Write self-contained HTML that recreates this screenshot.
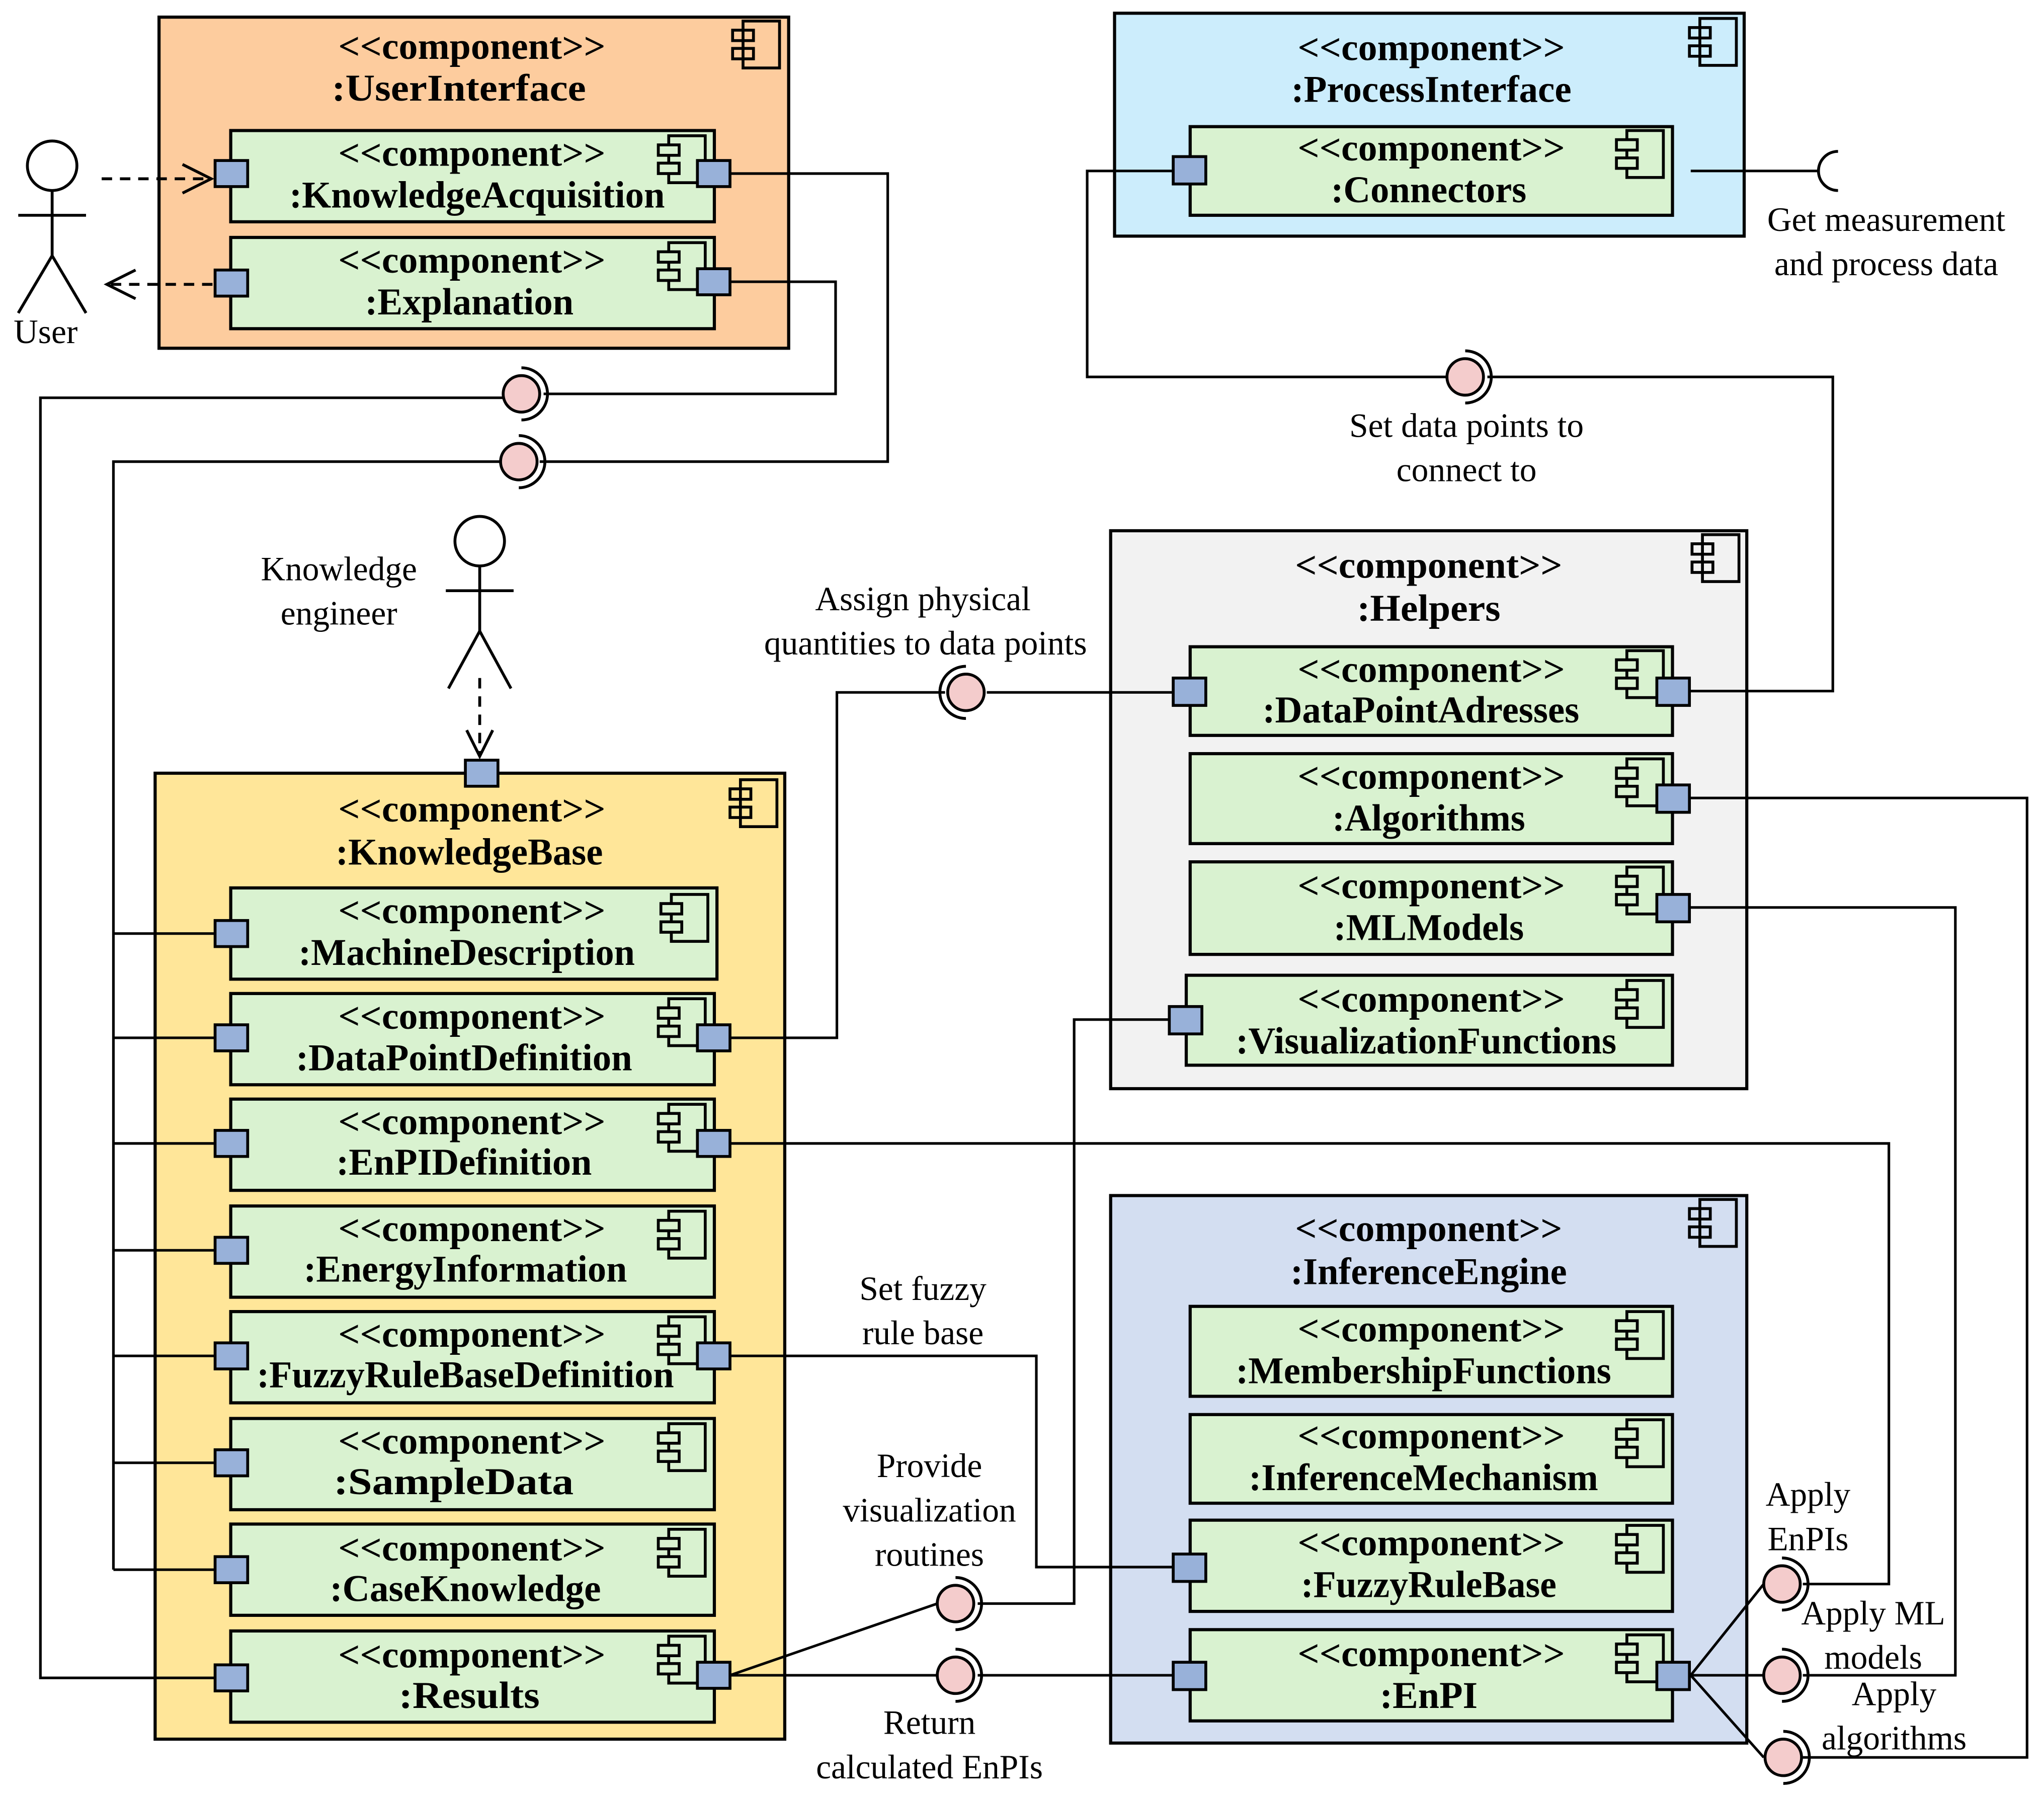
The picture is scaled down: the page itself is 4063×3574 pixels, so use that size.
<!DOCTYPE html>
<html><head><meta charset="utf-8"><style>html,body{margin:0;padding:0;background:#fff}svg{display:block}</style></head>
<body>
<svg xmlns="http://www.w3.org/2000/svg" width="4063" height="3574" viewBox="0 0 1568 1379">
<defs>
<g id="ic"><rect x="8" y="0" width="28" height="36" fill="none" stroke="#000" stroke-width="2.2"/><rect x="0" y="7" width="16" height="8" fill="#d9f2d0" stroke="#000" stroke-width="2.2"/><rect x="0" y="21" width="16" height="8" fill="#d9f2d0" stroke="#000" stroke-width="2.2"/></g>
<g id="icb"><rect x="8" y="0" width="28" height="36" fill="none" stroke="#000" stroke-width="2.2"/><rect x="0" y="7" width="16" height="8" fill="none" stroke="#000" stroke-width="2.2"/><rect x="0" y="21" width="16" height="8" fill="none" stroke="#000" stroke-width="2.2"/></g>
</defs>
<style>
.b{font-family:"Liberation Serif",serif;font-weight:bold;font-size:29px;text-anchor:middle}
.l{font-family:"Liberation Serif",serif;font-size:26px;text-anchor:middle}
.w{fill:none;stroke:#000;stroke-width:2}
.p{fill:#98b1d9;stroke:#000;stroke-width:2.2}
.g{fill:#d9f2d0;stroke:#000;stroke-width:2.4}
.ball{fill:#f4cccc;stroke:#000;stroke-width:2.2}
.s{fill:none;stroke:#000;stroke-width:2.2}
</style>

<!-- User Interface -->
<rect x="122" y="13" width="483" height="254" fill="#fdcc9e" stroke="#000" stroke-width="2.4"/>
<use href="#icb" x="562" y="16"/>
<text class="b" x="362" y="45" textLength="205" lengthAdjust="spacingAndGlyphs">&lt;&lt;component&gt;&gt;</text>
<text class="b" x="352" y="77" textLength="195" lengthAdjust="spacingAndGlyphs">:UserInterface</text>
<rect class="g" x="177" y="100" width="371" height="70"/><use href="#ic" x="505" y="104"/>
<text class="b" x="362" y="127" textLength="205" lengthAdjust="spacingAndGlyphs">&lt;&lt;component&gt;&gt;</text>
<text class="b" x="366" y="159" textLength="288" lengthAdjust="spacingAndGlyphs">:KnowledgeAcquisition</text>
<rect class="g" x="177" y="182" width="371" height="70"/><use href="#ic" x="505" y="186"/>
<text class="b" x="362" y="209" textLength="205" lengthAdjust="spacingAndGlyphs">&lt;&lt;component&gt;&gt;</text>
<text class="b" x="360" y="241" textLength="160" lengthAdjust="spacingAndGlyphs">:Explanation</text>

<!-- User actor -->
<g class="s"><circle cx="40" cy="127" r="19"/><line x1="40" y1="146" x2="40" y2="196"/><line x1="14" y1="165" x2="66" y2="165"/><polyline points="14,240 40,196 66,240"/></g>
<text class="l" x="35" y="263">User</text>
<g class="s" stroke-dasharray="8,6"><line x1="78" y1="137" x2="160" y2="137"/><line x1="85" y1="218" x2="163" y2="218"/></g>
<polyline class="s" points="140,126 162,137 140,148"/>
<polyline class="s" points="104,207 82,218 104,229"/>

<!-- Process Interface -->
<rect x="855" y="10" width="483" height="171" fill="#ccedfc" stroke="#000" stroke-width="2.4"/>
<use href="#icb" x="1296" y="14"/>
<text class="b" x="1098" y="46" textLength="205" lengthAdjust="spacingAndGlyphs">&lt;&lt;component&gt;&gt;</text>
<text class="b" x="1098" y="78" textLength="215" lengthAdjust="spacingAndGlyphs">:ProcessInterface</text>
<rect class="g" x="913" y="97" width="370" height="68"/><use href="#ic" x="1240" y="100"/>
<text class="b" x="1098" y="123" textLength="205" lengthAdjust="spacingAndGlyphs">&lt;&lt;component&gt;&gt;</text>
<text class="b" x="1096" y="155" textLength="150" lengthAdjust="spacingAndGlyphs">:Connectors</text>
<path class="s" d="M1410,116 A15,15 0 0 0 1410,146"/>
<text class="l" x="1447" y="177">Get measurement</text>
<text class="l" x="1447" y="211">and process data</text>

<text class="l" x="1125" y="335">Set data points to</text>
<text class="l" x="1125" y="369">connect to</text>
<text class="l" x="708" y="468">Assign physical</text>
<text class="l" x="710" y="502">quantities to data points</text>

<!-- Knowledge engineer -->
<g class="s"><circle cx="368" cy="415" r="19"/><line x1="368" y1="434" x2="368" y2="484"/><line x1="342" y1="453" x2="394" y2="453"/><polyline points="344,528 368,484 392,528"/></g>
<text class="l" x="260" y="445">Knowledge</text>
<text class="l" x="260" y="479">engineer</text>
<line class="s" x1="368" y1="520" x2="368" y2="578" stroke-dasharray="8,6"/>
<polyline class="s" points="358,560 368,580 378,560"/>

<!-- Helpers -->
<rect x="852" y="407" width="488" height="428" fill="#f2f2f2" stroke="#000" stroke-width="2.4"/>
<use href="#icb" x="1298" y="410"/>
<text class="b" x="1096" y="443" textLength="205" lengthAdjust="spacingAndGlyphs">&lt;&lt;component&gt;&gt;</text>
<text class="b" x="1096" y="476" textLength="110" lengthAdjust="spacingAndGlyphs">:Helpers</text>
<rect class="g" x="913" y="496" width="370" height="68"/><use href="#ic" x="1240" y="499"/>
<text class="b" x="1098" y="523" textLength="205" lengthAdjust="spacingAndGlyphs">&lt;&lt;component&gt;&gt;</text>
<text class="b" x="1090" y="554" textLength="243" lengthAdjust="spacingAndGlyphs">:DataPointAdresses</text>
<rect class="g" x="913" y="578" width="370" height="69"/><use href="#ic" x="1240" y="582"/>
<text class="b" x="1098" y="605" textLength="205" lengthAdjust="spacingAndGlyphs">&lt;&lt;component&gt;&gt;</text>
<text class="b" x="1096" y="637" textLength="148" lengthAdjust="spacingAndGlyphs">:Algorithms</text>
<rect class="g" x="913" y="661" width="370" height="71"/><use href="#ic" x="1240" y="665"/>
<text class="b" x="1098" y="689" textLength="205" lengthAdjust="spacingAndGlyphs">&lt;&lt;component&gt;&gt;</text>
<text class="b" x="1096" y="721" textLength="146" lengthAdjust="spacingAndGlyphs">:MLModels</text>
<rect class="g" x="910" y="748" width="373" height="69"/><use href="#ic" x="1240" y="752"/>
<text class="b" x="1098" y="776" textLength="205" lengthAdjust="spacingAndGlyphs">&lt;&lt;component&gt;&gt;</text>
<text class="b" x="1094" y="808" textLength="292" lengthAdjust="spacingAndGlyphs">:VisualizationFunctions</text>

<!-- Inference Engine -->
<rect x="852" y="917" width="488" height="420" fill="#d3def1" stroke="#000" stroke-width="2.4"/>
<use href="#icb" x="1296" y="920"/>
<text class="b" x="1096" y="952" textLength="205" lengthAdjust="spacingAndGlyphs">&lt;&lt;component&gt;&gt;</text>
<text class="b" x="1096" y="985" textLength="212" lengthAdjust="spacingAndGlyphs">:InferenceEngine</text>
<rect class="g" x="913" y="1002" width="370" height="69"/><use href="#ic" x="1240" y="1006"/>
<text class="b" x="1098" y="1029" textLength="205" lengthAdjust="spacingAndGlyphs">&lt;&lt;component&gt;&gt;</text>
<text class="b" x="1092" y="1061" textLength="288" lengthAdjust="spacingAndGlyphs">:MembershipFunctions</text>
<rect class="g" x="913" y="1085" width="370" height="68"/><use href="#ic" x="1240" y="1089"/>
<text class="b" x="1098" y="1111" textLength="205" lengthAdjust="spacingAndGlyphs">&lt;&lt;component&gt;&gt;</text>
<text class="b" x="1092" y="1143" textLength="268" lengthAdjust="spacingAndGlyphs">:InferenceMechanism</text>
<rect class="g" x="913" y="1166" width="370" height="70"/><use href="#ic" x="1240" y="1170"/>
<text class="b" x="1098" y="1193" textLength="205" lengthAdjust="spacingAndGlyphs">&lt;&lt;component&gt;&gt;</text>
<text class="b" x="1096" y="1225" textLength="196" lengthAdjust="spacingAndGlyphs">:FuzzyRuleBase</text>
<rect class="g" x="913" y="1250" width="370" height="70"/><use href="#ic" x="1240" y="1254"/>
<text class="b" x="1098" y="1278" textLength="205" lengthAdjust="spacingAndGlyphs">&lt;&lt;component&gt;&gt;</text>
<text class="b" x="1096" y="1310" textLength="75" lengthAdjust="spacingAndGlyphs">:EnPI</text>

<!-- Knowledge Base -->
<rect x="119" y="593" width="483" height="741" fill="#ffe699" stroke="#000" stroke-width="2.4"/>
<use href="#icb" x="560" y="598"/>
<text class="b" x="362" y="630" textLength="205" lengthAdjust="spacingAndGlyphs">&lt;&lt;component&gt;&gt;</text>
<text class="b" x="360" y="663" textLength="205" lengthAdjust="spacingAndGlyphs">:KnowledgeBase</text>
<rect class="g" x="177" y="681" width="373" height="70"/><use href="#ic" x="507" y="686"/>
<text class="b" x="362" y="708" textLength="205" lengthAdjust="spacingAndGlyphs">&lt;&lt;component&gt;&gt;</text>
<text class="b" x="358" y="740" textLength="258" lengthAdjust="spacingAndGlyphs">:MachineDescription</text>
<rect class="g" x="177" y="762" width="371" height="70"/><use href="#ic" x="505" y="766"/>
<text class="b" x="362" y="789" textLength="205" lengthAdjust="spacingAndGlyphs">&lt;&lt;component&gt;&gt;</text>
<text class="b" x="356" y="821" textLength="258" lengthAdjust="spacingAndGlyphs">:DataPointDefinition</text>
<rect class="g" x="177" y="843" width="371" height="70"/><use href="#ic" x="505" y="847"/>
<text class="b" x="362" y="870" textLength="205" lengthAdjust="spacingAndGlyphs">&lt;&lt;component&gt;&gt;</text>
<text class="b" x="356" y="901" textLength="196" lengthAdjust="spacingAndGlyphs">:EnPIDefinition</text>
<rect class="g" x="177" y="925" width="371" height="70"/><use href="#ic" x="505" y="929"/>
<text class="b" x="362" y="952" textLength="205" lengthAdjust="spacingAndGlyphs">&lt;&lt;component&gt;&gt;</text>
<text class="b" x="357" y="983" textLength="248" lengthAdjust="spacingAndGlyphs">:EnergyInformation</text>
<rect class="g" x="177" y="1006" width="371" height="70"/><use href="#ic" x="505" y="1010"/>
<text class="b" x="362" y="1033" textLength="205" lengthAdjust="spacingAndGlyphs">&lt;&lt;component&gt;&gt;</text>
<text class="b" x="357" y="1064" textLength="320" lengthAdjust="spacingAndGlyphs">:FuzzyRuleBaseDefinition</text>
<rect class="g" x="177" y="1088" width="371" height="70"/><use href="#ic" x="505" y="1092"/>
<text class="b" x="362" y="1115" textLength="205" lengthAdjust="spacingAndGlyphs">&lt;&lt;component&gt;&gt;</text>
<text class="b" x="348" y="1146" textLength="184" lengthAdjust="spacingAndGlyphs">:SampleData</text>
<rect class="g" x="177" y="1169" width="371" height="70"/><use href="#ic" x="505" y="1173"/>
<text class="b" x="362" y="1197" textLength="205" lengthAdjust="spacingAndGlyphs">&lt;&lt;component&gt;&gt;</text>
<text class="b" x="357" y="1228" textLength="208" lengthAdjust="spacingAndGlyphs">:CaseKnowledge</text>
<rect class="g" x="177" y="1251" width="371" height="70"/><use href="#ic" x="505" y="1255"/>
<text class="b" x="362" y="1279" textLength="205" lengthAdjust="spacingAndGlyphs">&lt;&lt;component&gt;&gt;</text>
<text class="b" x="360" y="1310" textLength="108" lengthAdjust="spacingAndGlyphs">:Results</text>

<text class="l" x="708" y="997">Set fuzzy</text>
<text class="l" x="708" y="1031">rule base</text>
<text class="l" x="713" y="1133">Provide</text>
<text class="l" x="713" y="1167">visualization</text>
<text class="l" x="713" y="1201">routines</text>
<text class="l" x="713" y="1330">Return</text>
<text class="l" x="713" y="1364">calculated EnPIs</text>
<text class="l" x="1387" y="1155">Apply</text>
<text class="l" x="1387" y="1189">EnPIs</text>
<text class="l" x="1437" y="1246">Apply ML</text>
<text class="l" x="1437" y="1280">models</text>
<text class="l" x="1453" y="1308">Apply</text>
<text class="l" x="1453" y="1342">algorithms</text>

<!-- connector wires (on top of containers) -->
<g class="w">
<polyline points="560,133 681,133 681,354 414,354"/>
<polyline points="384,354 87,354 87,1204"/>
<polyline points="560,216 641,216 641,302 417,302"/>
<polyline points="386,305 31,305 31,1287 165,1287"/>
<line x1="87" y1="716" x2="165" y2="716"/><line x1="87" y1="796" x2="165" y2="796"/><line x1="87" y1="877" x2="165" y2="877"/><line x1="87" y1="959" x2="165" y2="959"/><line x1="87" y1="1040" x2="165" y2="1040"/><line x1="87" y1="1122" x2="165" y2="1122"/><line x1="87" y1="1204" x2="165" y2="1204"/>
<polyline points="560,796 642,796 642,531 725,531"/>
<line x1="757" y1="531" x2="900" y2="531"/>
<polyline points="900,131 834,131 834,289 1110,289"/>
<polyline points="1141,289 1406,289 1406,530 1297,530"/>
<line x1="1297" y1="131" x2="1394" y2="131"/>
<polyline points="560,877 1449,877 1449,1215 1383,1215"/>
<polyline points="560,1040 795,1040 795,1202 900,1202"/>
<polyline points="897,782 824,782 824,1230 750,1230"/>
<line x1="560" y1="1285" x2="719" y2="1230"/>
<line x1="560" y1="1285" x2="719" y2="1285"/>
<line x1="750" y1="1285" x2="900" y2="1285"/>
<polyline points="1297,612 1555,612 1555,1348 1383,1348"/>
<polyline points="1297,696 1500,696 1500,1285 1383,1285"/>
<line x1="1297" y1="1285" x2="1353" y2="1215"/>
<line x1="1297" y1="1285" x2="1353" y2="1285"/>
<line x1="1297" y1="1285" x2="1353" y2="1348"/>
</g>

<!-- ports -->
<rect class="p" x="165" y="123" width="25" height="20"/><rect class="p" x="535" y="123" width="25" height="20"/>
<rect class="p" x="165" y="207" width="25" height="20"/><rect class="p" x="535" y="206" width="25" height="20"/>
<rect class="p" x="900" y="120" width="25" height="21"/>
<rect class="p" x="900" y="520" width="25" height="21"/><rect class="p" x="1271" y="520" width="25" height="21"/>
<rect class="p" x="1271" y="602" width="25" height="21"/>
<rect class="p" x="1271" y="686" width="25" height="21"/>
<rect class="p" x="897" y="772" width="25" height="21"/>
<rect class="p" x="900" y="1192" width="25" height="21"/>
<rect class="p" x="900" y="1275" width="25" height="21"/><rect class="p" x="1271" y="1275" width="25" height="21"/>
<rect class="p" x="357" y="583" width="25" height="20"/>
<rect class="p" x="165" y="706" width="25" height="20"/>
<rect class="p" x="165" y="786" width="25" height="20"/><rect class="p" x="535" y="786" width="25" height="20"/>
<rect class="p" x="165" y="867" width="25" height="20"/><rect class="p" x="535" y="867" width="25" height="20"/>
<rect class="p" x="165" y="949" width="25" height="20"/>
<rect class="p" x="165" y="1030" width="25" height="20"/><rect class="p" x="535" y="1030" width="25" height="20"/>
<rect class="p" x="165" y="1112" width="25" height="20"/>
<rect class="p" x="165" y="1194" width="25" height="20"/>
<rect class="p" x="165" y="1277" width="25" height="20"/><rect class="p" x="535" y="1275" width="25" height="20"/>

<!-- balls and sockets -->
<circle class="ball" cx="400" cy="302" r="14"/><path class="s" d="M400,282 A20,20 0 0 1 400,322"/>
<circle class="ball" cx="398" cy="354" r="14"/><path class="s" d="M398,334 A20,20 0 0 1 398,374"/>
<circle class="ball" cx="1124" cy="289" r="14"/><path class="s" d="M1124,269 A20,20 0 0 1 1124,309"/>
<circle class="ball" cx="741" cy="531" r="14"/><path class="s" d="M741,511 A20,20 0 0 0 741,551"/>
<circle class="ball" cx="733" cy="1230" r="14"/><path class="s" d="M733,1210 A20,20 0 0 1 733,1250"/>
<circle class="ball" cx="733" cy="1285" r="14"/><path class="s" d="M733,1265 A20,20 0 0 1 733,1305"/>
<circle class="ball" cx="1367" cy="1215" r="14"/><path class="s" d="M1367,1195 A20,20 0 0 1 1367,1235"/>
<circle class="ball" cx="1367" cy="1285" r="14"/><path class="s" d="M1367,1265 A20,20 0 0 1 1367,1305"/>
<circle class="ball" cx="1368" cy="1348" r="14"/><path class="s" d="M1368,1328 A20,20 0 0 1 1368,1368"/>
</svg>
</body></html>
